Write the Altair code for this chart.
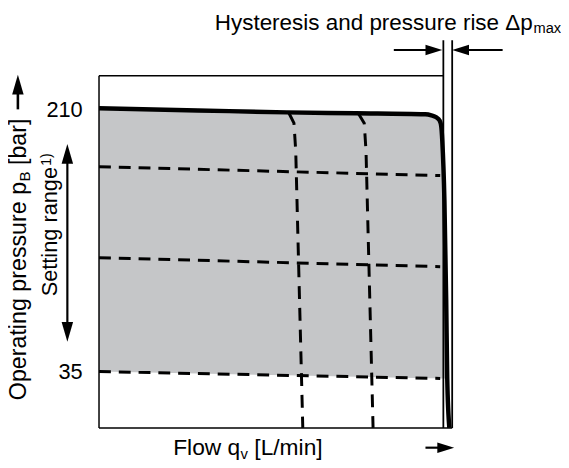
import altair as alt
import pandas as pd

# ---- values (flow in % of max, pressure in bar) ----
flow_top = [0, 28.0, 53.2, 72.8, 92.4, 94.1, 95.5, 96.4, 96.9, 97.2, 97.8, 98.3, 98.6, 99.2]
p_top = [210.7, 209.3, 208.0, 207.4, 206.7, 206.0, 204.7, 202.7, 198.8, 188.9, 149.2, 83.2, 30.4, -2.6]

set_levels = ["170", "110", "35"]
set_flow = [0, 96.6]
set_p_start = [171.7, 111.0, 35.0]
set_p_end = [165.8, 105.0, 30.4]

vert_names = ["A", "B"]
vert_p = [207.4, 200.8, 182.3, -2.6]
vert_flow = {"A": [53.8, 55.2, 55.7, 57.7], "B": [73.4, 75.1, 75.6, 77.6]}

y_ticks = [35, 210]

# scale extents
X_MIN, X_MAX = 0, 100
Y_MIN, Y_MAX = -2.6, 232.45
Y_LINE_TOP = 256.2   # hysteresis marker lines extend above the frame
X_HYST = 97.5

FONT = "Liberation Sans"
GRAY = "#c5c6c8"

# ---- tables ----
top_df = pd.DataFrame({"q": flow_top, "p": p_top, "o": list(range(len(flow_top)))})
one = pd.DataFrame({"k": [0]})

area_rows = []
for q, p in zip(flow_top, p_top):
    bottom = set_p_start[2] + (set_p_end[2] - set_p_start[2]) * min(q, set_flow[1]) / set_flow[1]
    if p >= bottom:
        area_rows.append({"q": q, "p": p, "p2": bottom})
area_df = pd.DataFrame(area_rows)

h_rows = []
for lvl, a, b in zip(set_levels, set_p_start, set_p_end):
    h_rows.append({"lvl": lvl, "q": set_flow[0], "p": a})
    h_rows.append({"lvl": lvl, "q": set_flow[1], "p": b})
h_df = pd.DataFrame(h_rows)

v_rows = []
for name in vert_names:
    for i, (q, p) in enumerate(zip(vert_flow[name], vert_p)):
        v_rows.append({"name": name, "q": q, "p": p, "o": i})
v_df = pd.DataFrame(v_rows)

frame_df = pd.DataFrame({
    "q": [X_MIN, X_MIN, X_MIN, X_HYST, X_MAX],
    "q2": [X_MIN, X_HYST, X_MAX, X_HYST, X_MAX],
    "p": [Y_MIN, Y_MAX, Y_MIN, Y_MIN, Y_MIN],
    "p2": [Y_MAX, Y_MAX, Y_MIN, Y_LINE_TOP, Y_LINE_TOP],
    "w": [1.5, 1.5, 1.5, 1.8, 1.8],
})

xs = alt.Scale(domain=[X_MIN, X_MAX], nice=False, zero=False)
ys = alt.Scale(domain=[Y_MIN, Y_MAX], nice=False, zero=False)
yaxis = alt.Axis(values=y_ticks, title=None, ticks=False, domain=False, grid=False,
                 labelFontSize=22, labelFont=FONT, labelPadding=17, labelColor="black")


def X(f="q"):
    return alt.X(f"{f}:Q", scale=xs, axis=None)


def Y(f="p"):
    return alt.Y(f"{f}:Q", scale=ys, axis=yaxis)


area = alt.Chart(area_df).mark_area(color=GRAY, opacity=1, interpolate="linear").encode(
    x=X(), y=Y(), y2="p2:Q")

hlines = alt.Chart(h_df).mark_line(color="black", strokeWidth=3, strokeDash=[12, 8]).encode(
    x=X(), y=Y(), detail="lvl:N")

vlines = alt.Chart(v_df).mark_line(color="black", strokeWidth=3, strokeDash=[13, 9]).encode(
    x=X(), y=Y(), detail="name:N", order="o:Q")

topline = alt.Chart(top_df).mark_line(color="black", strokeWidth=4.5, interpolate="monotone").encode(
    x=X(), y=Y(), order="o:Q")

frame = alt.Chart(frame_df).mark_rule(color="black").encode(
    x=X(), x2="q2:Q", y=Y(), y2="p2:Q",
    strokeWidth=alt.StrokeWidth("w:Q", scale=None))

# ---- annotations (pixel positions relative to the plot origin) ----
OX, OY = 100, 74
layers = [area, hlines, vlines, topline, frame]


def txt(s, x, y, size, angle=0, align="left"):
    kw = dict(text=s, font=FONT, fontSize=size, align=align, baseline="alphabetic", color="black")
    if angle:
        kw["angle"] = angle
    return alt.Chart(one).mark_text(**kw).encode(x=alt.value(x - OX), y=alt.value(y - OY))


def shaft(x1, y1, x2, y2, w=2.2):
    return alt.Chart(one).mark_rule(color="black", strokeWidth=w).encode(
        x=alt.value(x1 - OX), x2=alt.value(x2 - OX), y=alt.value(y1 - OY), y2=alt.value(y2 - OY))


HEADS = {
    "right": "M1,0L-1,-0.62L-1,0.62Z",
    "left": "M-1,0L1,-0.62L1,0.62Z",
    "up": "M0,-1L-0.58,1L0.58,1Z",
    "down": "M0,1L-0.58,-1L0.58,-1Z",
}


def head(direction, x, y, length):
    return alt.Chart(one).mark_point(shape=HEADS[direction], filled=True, fill="black",
                                     fillOpacity=1, strokeWidth=0, size=length * length).encode(
        x=alt.value(x - OX), y=alt.value(y - OY))


# title with subscript
layers.append(txt("Hysteresis and pressure rise \u0394p", 217, 28, 22.7))
layers.append(txt("max", 217 + 322.2, 31, 14.8))
# hysteresis arrows
layers += [shaft(398, 48, 440, 48), head("right", 438.5, 48, 17),
           shaft(465, 48, 508, 48), head("left", 465.5, 48, 17)]
# x label with subscript and arrow
layers.append(txt("Flow q", 175, 457, 23))
layers.append(txt("v", 243, 461, 15))
layers.append(txt("[L/min]", 257, 457, 23))
layers += [shaft(430, 450, 450, 450), head("right", 450.5, 450, 17)]
# y label with subscript and arrow
layers.append(txt("Operating pressure p", 26, 402, 23.5, angle=270))
layers.append(txt("B", 30, 181, 15.3, angle=270))
layers.append(txt("[bar]", 26, 164.3, 23.5, angle=270))
layers += [shaft(18, 108, 18, 85, 2.6), head("up", 18, 83, 20)]
# setting range label and double arrow
layers.append(txt("Setting range", 58, 297, 22, angle=270))
layers.append(txt("1)", 51, 165, 14, angle=270))
layers += [shaft(68, 150, 68, 336, 2.2), head("up", 68, 153, 20), head("down", 68, 333, 20)]

chart = alt.layer(*layers).properties(
    width=357, height=356,
    padding={"left": 92, "top": 66, "right": 110, "bottom": 30},
    autosize=alt.AutoSizeParams(type="none"),
    background="white",
).configure_view(stroke=None)

chart.save("out.html", embed_options={"renderer": "svg", "actions": False})
